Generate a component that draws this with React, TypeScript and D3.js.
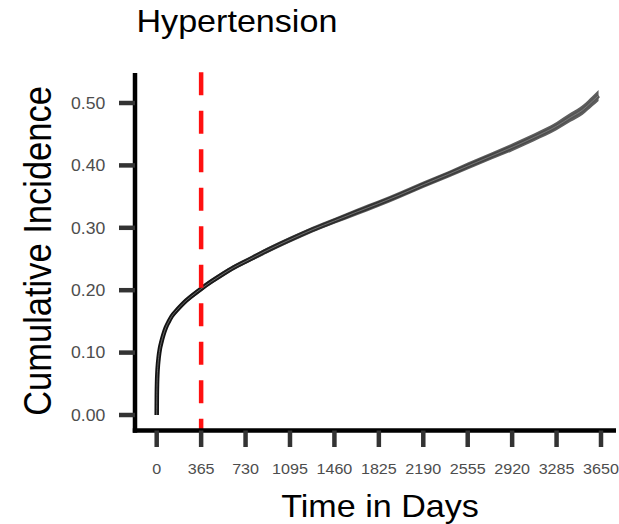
import React from "react";
import { scaleLinear, line, area, curveMonotoneX } from "d3";

// cumulative incidence
const days = [0, 1, 3, 6, 10, 16, 27, 40, 54, 75, 100, 123, 170, 218, 290, 370, 450, 545, 630, 730, 900, 1095, 1280, 1460, 1640, 1825, 2000, 2190, 2400, 2555, 2750, 2920, 3100, 3285, 3400, 3500, 3580, 3630];
const incidence = [0, 0.03, 0.052, 0.068, 0.08, 0.092, 0.107, 0.118, 0.128, 0.14, 0.15, 0.158, 0.169, 0.179, 0.191, 0.203, 0.214, 0.226, 0.236, 0.246, 0.263, 0.281, 0.297, 0.311, 0.325, 0.339, 0.353, 0.369, 0.386, 0.399, 0.415, 0.429, 0.445, 0.463, 0.477, 0.489, 0.503, 0.512];
const ciHalf = [0, 0.001, 0.001, 0.001, 0.001, 0.001, 0.001, 0.001, 0.001, 0.001, 0.001, 0.001, 0.001, 0.001, 0.001, 0.001, 0.001, 0.001, 0.001, 0.001, 0.0015, 0.0015, 0.0015, 0.0015, 0.002, 0.002, 0.002, 0.002, 0.002, 0.0025, 0.0025, 0.003, 0.003, 0.0035, 0.004, 0.0045, 0.005, 0.0055];

const xTicks = [0, 365, 730, 1095, 1460, 1825, 2190, 2555, 2920, 3285, 3650];
const yTicks = [0, 0.1, 0.2, 0.3, 0.4, 0.5];
const cutoffDay = 365;

const title = "Hypertension";
const xTitle = "Time in Days";
const yTitle = "Cumulative Incidence";

const W = 619;
const H = 524;
const SX = 1.1; // picture is a bit wider than tall

const x = scaleLinear().domain([0, 3650]).range([156.7, 601]);
const y = scaleLinear().domain([0, 0.5]).range([415, 103]);

const Txt = ({ tx, ty, anchor = "start", size, fill = "#000", rotate = 0, sx = SX, children }: any) => (
  <text
    transform={`translate(${tx},${ty}) scale(${sx},1)${rotate ? ` rotate(${rotate})` : ""}`}
    textAnchor={anchor}
    fontSize={size}
    fill={fill}
  >
    {children}
  </text>
);

export default function App() {
  const pts = days.map((d, i) => ({ d, v: incidence[i], c: ciHalf[i] }));

  const path = line<any>()
    .x((p) => x(p.d))
    .y((p) => y(p.v))
    .curve(curveMonotoneX)(pts);

  const band = area<any>()
    .x((p) => x(p.d))
    .y0((p) => y(p.v - p.c) + 2)
    .y1((p) => y(p.v + p.c) - 2)
    .curve(curveMonotoneX)(pts);

  const axisY = 430.5;
  const axisX = 135;
  const xc = x(cutoffDay);

  return (
    <svg
      width={W}
      height={H}
      style={{ position: "absolute", left: 0, top: 0, background: "#fff" }}
      fontFamily="'Liberation Sans', Arial, sans-serif"
    >
      <defs>
        <linearGradient id="lineGrad" gradientUnits="userSpaceOnUse" x1={x(0)} x2={x(3650)} y1={0} y2={0}>
          <stop offset="0%" stopColor="#111" />
          <stop offset="35%" stopColor="#2a2a2a" />
          <stop offset="75%" stopColor="#444" />
          <stop offset="100%" stopColor="#5a5a5a" />
        </linearGradient>
      </defs>

      <Txt tx={136.5} ty={31.7} size={31}>{title}</Txt>

      {/* curve */}
      <path d={band || ""} fill="#5e5e5e" />
      <path d={path || ""} fill="none" stroke="url(#lineGrad)" strokeWidth={4.5} strokeLinejoin="round" />
      <path d={path || ""} fill="none" stroke="#8a8a8a" strokeWidth={0.9} strokeOpacity={0.8} />

      {/* cutoff */}
      <line
        x1={xc}
        x2={xc}
        y1={axisY}
        y2={72}
        stroke="#ff1010"
        strokeWidth={4.5}
        strokeDasharray="23,15.5"
        strokeDashoffset={11.3}
      />

      {/* axes */}
      <line x1={axisX} x2={axisX} y1={73} y2={axisY + 2.25} stroke="#000" strokeWidth={4.5} />
      <line x1={axisX - 2.25} x2={616} y1={axisY} y2={axisY} stroke="#000" strokeWidth={4.5} />

      {yTicks.map((t) => (
        <g key={t}>
          <line x1={119} x2={axisX} y1={y(t)} y2={y(t)} stroke="#333" strokeWidth={4.5} />
          <Txt tx={105.3} ty={y(t) + 5.8} anchor="end" size={16} fill="#4d4d4d">
            {t.toFixed(2)}
          </Txt>
        </g>
      ))}

      {xTicks.map((t) => (
        <g key={t}>
          <line x1={x(t)} x2={x(t)} y1={axisY} y2={447} stroke="#333" strokeWidth={4.5} />
          <Txt tx={x(t)} ty={474} anchor="middle" size={15.5} sx={1.04} fill="#4d4d4d">
            {t}
          </Txt>
        </g>
      ))}

      <Txt tx={380} ty={517} anchor="middle" size={31}>{xTitle}</Txt>
      <Txt tx={51} ty={251} anchor="middle" size={34.5} rotate={-90}>{yTitle}</Txt>
    </svg>
  );
}
